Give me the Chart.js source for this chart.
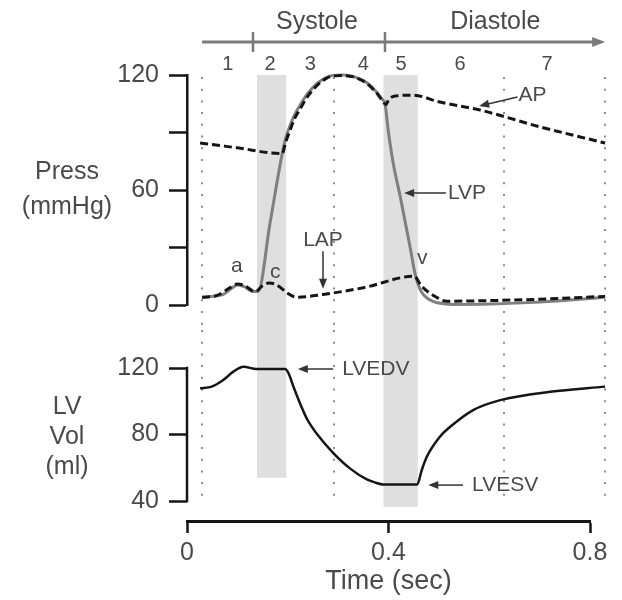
<!DOCTYPE html>
<html>
<head>
<meta charset="utf-8">
<script src="https://cdn.jsdelivr.net/npm/chart.js@4.4.0/dist/chart.umd.min.js"></script>
<style>
  html, body { margin: 0; padding: 0; background: #fff; }
  #wrap { position: relative; width: 622px; height: 600px; }
  canvas { position: absolute; left: 0; }
  #pressChart { top: 0; }
  #volChart { top: 330px; }
</style>
</head>
<body>
<div id="wrap">
  <canvas id="pressChart" width="622" height="330"></canvas>
  <canvas id="volChart" width="622" height="270"></canvas>
</div>
<script>
(() => {
  'use strict';

  const FONT = '"Liberation Sans", Arial, sans-serif';
  const TEXT = '#4a4a4a';
  const INK = '#151515';
  const BAND = '#dfdfdf';

  // curvas (tempo em s)
  const lvpTime = [0.03, 0.05, 0.072, 0.09, 0.1, 0.115, 0.13, 0.141, 0.165, 0.189, 0.196, 0.205, 0.215, 0.224, 0.24, 0.258, 0.275, 0.29, 0.31, 0.33, 0.357, 0.375, 0.387, 0.393, 0.40, 0.41, 0.423, 0.443, 0.453, 0.465, 0.48, 0.50, 0.53, 0.60, 0.70, 0.83];
  const lvpPress = [4, 4.5, 5.5, 9, 10.5, 9.5, 7, 7, 43, 79, 87, 94, 100, 104, 110.5, 115.5, 118.5, 119.8, 120, 119.2, 116, 111.5, 107.5, 105, 90, 73, 57, 30, 16, 7, 3, 1, 0.3, 0.5, 1.5, 4];

  const apTime = [0.026, 0.10, 0.189, 0.196, 0.205, 0.215, 0.224, 0.24, 0.258, 0.275, 0.29, 0.31, 0.33, 0.357, 0.375, 0.387, 0.395, 0.40, 0.413, 0.449, 0.50, 0.582, 0.70, 0.83];
  const apPress = [84.5, 82, 79, 85, 91.5, 98, 102, 109, 114.5, 118, 119.5, 119.7, 119, 115.5, 111, 107, 104.5, 107, 109, 109.5, 106, 101.7, 93, 84.5];

  const lapTime = [0.03, 0.06, 0.085, 0.1, 0.115, 0.135, 0.15, 0.163, 0.178, 0.199, 0.218, 0.27, 0.35, 0.451, 0.465, 0.489, 0.516, 0.6, 0.7, 0.83];
  const lapPress = [4, 5, 9, 11, 10, 7, 10, 11.5, 10.5, 6.3, 4, 5.5, 9, 15, 10, 5, 2, 2.3, 3, 4.5];

  const volTime = [0.026, 0.049, 0.072, 0.092, 0.112, 0.138, 0.195, 0.202, 0.211, 0.224, 0.238, 0.26, 0.29, 0.324, 0.357, 0.375, 0.389, 0.457, 0.466, 0.476, 0.502, 0.522, 0.568, 0.622, 0.721, 0.83];
  const lvVol = [107.8, 108.8, 112.8, 117.8, 120.8, 119.4, 119.4, 116.5, 109, 99, 89.5, 79.5, 69, 59.5, 53, 51, 50, 50, 58.6, 66.6, 78.7, 84.5, 94.7, 100.7, 105.7, 108.8];

  const pressTicks = [0, 30, 60, 90, 120];
  const pressTickLabels = ['0', '', '60', '', '120'];
  const volTicks = [40, 80, 120];
  const timeTicks = [0, 0.4, 0.8];

  // fases do ciclo
  const phaseNames = ['1', '2', '3', '4', '5', '6', '7'];
  const phaseTime = [0.081, 0.165, 0.245, 0.35, 0.425, 0.542, 0.715];
  const periodNames = ['Systole', 'Diastole'];
  const periodTime = [0.258, 0.612];
  const periodMarks = [0.131, 0.393];
  const periodSpan = [0.03, 0.83];

  const dottedTime = [0.03, 0.292, 0.63, 0.83];
  const bandStart = [0.139, 0.39];
  const bandEnd = [0.197, 0.458];
  const bandVolBottom = [54, 36.5];
  const dottedVolBottom = 37.5;

  const pressNotes = [
    { text: 'AP', t: 0.658, v: 109.6, align: 'left', from: [0.656, 108.5], to: [0.58, 103.8] },
    { text: 'LVP', t: 0.518, v: 58.4, align: 'left', from: [0.514, 58.4], to: [0.431, 58.4] },
    { text: 'LAP', t: 0.27, v: 33.9, align: 'center', from: [0.27, 28], to: [0.27, 8.5] },
    { text: 'a', t: 0.099, v: 20 },
    { text: 'c', t: 0.175, v: 17 },
    { text: 'v', t: 0.467, v: 24.5 }
  ];
  const volNotes = [
    { text: 'LVEDV', t: 0.308, v: 119.4, align: 'left', from: [0.29, 119.4], to: [0.22, 119.4] },
    { text: 'LVESV', t: 0.566, v: 49.6, align: 'left', from: [0.548, 49.6], to: [0.479, 49.6] }
  ];

  const pts = (xs, ys) => xs.map((x, i) => ({ x, y: ys[i] }));

  function arrow(ctx, x1, y1, x2, y2) {
    const a = Math.atan2(y2 - y1, x2 - x1);
    const len = 10, half = 4;
    ctx.beginPath();
    ctx.moveTo(x1, y1);
    ctx.lineTo(x2 - Math.cos(a) * len * 0.8, y2 - Math.sin(a) * len * 0.8);
    ctx.stroke();
    ctx.beginPath();
    ctx.moveTo(x2, y2);
    ctx.lineTo(x2 - Math.cos(a) * len + Math.sin(a) * half, y2 - Math.sin(a) * len - Math.cos(a) * half);
    ctx.lineTo(x2 - Math.cos(a) * len - Math.sin(a) * half, y2 - Math.sin(a) * len + Math.cos(a) * half);
    ctx.closePath();
    ctx.fill();
  }

  function notesPlugin(notes) {
    return {
      id: 'notes',
      afterDatasetsDraw(chart) {
        const { ctx, scales: { x, y } } = chart;
        ctx.save();
        ctx.font = '21px ' + FONT;
        ctx.fillStyle = TEXT;
        ctx.strokeStyle = '#333';
        ctx.lineWidth = 1.5;
        ctx.textBaseline = 'middle';
        notes.forEach(n => {
          ctx.textAlign = n.align || 'center';
          ctx.fillText(n.text, x.getPixelForValue(n.t), y.getPixelForValue(n.v));
          if (n.from) {
            ctx.fillStyle = '#333';
            arrow(ctx, x.getPixelForValue(n.from[0]), y.getPixelForValue(n.from[1]),
              x.getPixelForValue(n.to[0]), y.getPixelForValue(n.to[1]));
            ctx.fillStyle = TEXT;
          }
        });
        ctx.restore();
      }
    };
  }

  function guidesPlugin(spanOf, dotSpan) {
    return {
      id: 'guides',
      beforeDatasetsDraw(chart) {
        const { ctx, scales: { x } } = chart;
        ctx.save();
        ctx.fillStyle = BAND;
        bandStart.forEach((t0, i) => {
          const [top, bottom] = spanOf(chart, i);
          const x0 = x.getPixelForValue(t0);
          ctx.fillRect(x0, top, x.getPixelForValue(bandEnd[i]) - x0, bottom - top);
        });
        const [dTop, dBottom] = dotSpan(chart);
        ctx.strokeStyle = '#8c8c8c';
        ctx.lineWidth = 2;
        ctx.setLineDash([2, 9.7]);
        dottedTime.forEach(t => {
          const px = Math.round(x.getPixelForValue(t));
          ctx.beginPath();
          ctx.moveTo(px, dTop);
          ctx.lineTo(px, dBottom);
          ctx.stroke();
        });
        ctx.restore();
      }
    };
  }

  function sideTitle(lines, ys) {
    return {
      id: 'sideTitle',
      afterDraw(chart) {
        const { ctx } = chart;
        ctx.save();
        ctx.font = '25px ' + FONT;
        ctx.fillStyle = TEXT;
        ctx.textAlign = 'center';
        ctx.textBaseline = 'middle';
        lines.forEach((s, i) => ctx.fillText(s, 67, ys[i]));
        ctx.restore();
      }
    };
  }

  const header = {
    id: 'header',
    afterDraw(chart) {
      const { ctx, scales: { x } } = chart;
      const yLine = 42;
      ctx.save();
      ctx.strokeStyle = '#7a7a7a';
      ctx.fillStyle = '#7a7a7a';
      ctx.lineWidth = 3;
      const x0 = x.getPixelForValue(periodSpan[0]);
      const x1 = x.getPixelForValue(periodSpan[1]);
      ctx.beginPath();
      ctx.moveTo(x0, yLine);
      ctx.lineTo(x1 - 8, yLine);
      ctx.stroke();
      ctx.beginPath();
      ctx.moveTo(x1, yLine);
      ctx.lineTo(x1 - 13, yLine - 5);
      ctx.lineTo(x1 - 13, yLine + 5);
      ctx.closePath();
      ctx.fill();
      ctx.lineWidth = 2.5;
      periodMarks.forEach(t => {
        const px = x.getPixelForValue(t);
        ctx.beginPath();
        ctx.moveTo(px, yLine - 10);
        ctx.lineTo(px, yLine + 10);
        ctx.stroke();
      });
      ctx.fillStyle = TEXT;
      ctx.textAlign = 'center';
      ctx.textBaseline = 'middle';
      ctx.font = '25px ' + FONT;
      periodNames.forEach((s, i) => ctx.fillText(s, x.getPixelForValue(periodTime[i]), 22));
      ctx.font = '20px ' + FONT;
      phaseNames.forEach((s, i) => ctx.fillText(s, x.getPixelForValue(phaseTime[i]), 64));
      ctx.restore();
    }
  };

  const volAxisLine = {
    id: 'volAxisLine',
    afterDraw(chart) {
      const { ctx, chartArea, scales: { y } } = chart;
      ctx.save();
      ctx.strokeStyle = INK;
      ctx.lineWidth = 2.5;
      ctx.beginPath();
      ctx.moveTo(chartArea.left, y.getPixelForValue(volTicks[0]) + 1.25);
      ctx.lineTo(chartArea.left, y.getPixelForValue(volTicks[volTicks.length - 1]) - 1.25);
      ctx.stroke();
      ctx.restore();
    }
  };

  const tickFont = { family: FONT, size: 25 };
  const baseOptions = {
    responsive: false,
    devicePixelRatio: 1,
    animation: false,
    events: [],
    elements: {
      point: { radius: 0 },
      line: { cubicInterpolationMode: 'monotone', fill: false, borderCapStyle: 'butt' }
    },
    plugins: { legend: { display: false }, tooltip: { enabled: false } }
  };
  const yCommon = {
    afterFit: s => { s.width = 187; },
    grid: { drawOnChartArea: false, tickLength: 18, tickWidth: 2.5, tickColor: INK },
    ticks: { font: tickFont, color: TEXT, padding: 10 }
  };

  new Chart(document.getElementById('pressChart'), {
    type: 'line',
    data: {
      datasets: [
        { label: 'AP', data: pts(apTime, apPress), borderColor: INK, borderWidth: 3, borderDash: [8, 4], order: 1, clip: false },
        { label: 'LAP', data: pts(lapTime, lapPress), borderColor: INK, borderWidth: 3, borderDash: [8, 4], order: 1, clip: false },
        { label: 'LVP', data: pts(lvpTime, lvpPress), borderColor: '#7f7f7f', borderWidth: 3, order: 2, clip: false }
      ]
    },
    options: {
      ...baseOptions,
      layout: { padding: { top: 75, right: 32, bottom: 25, left: 0 } },
      scales: {
        x: { type: 'linear', min: 0, max: 0.8, display: false },
        y: {
          ...yCommon,
          min: 0, max: 120,
          afterBuildTicks: s => { s.ticks = pressTicks.map(value => ({ value })); },
          ticks: { ...yCommon.ticks, callback: v => pressTickLabels[pressTicks.indexOf(v)] },
          border: { color: INK, width: 2.5 }
        }
      }
    },
    plugins: [
      guidesPlugin(c => [c.chartArea.top, c.height], c => [c.chartArea.top + 2, c.height]),
      header,
      notesPlugin(pressNotes),
      sideTitle(['Press', '(mmHg)'], [172, 207])
    ]
  });

  new Chart(document.getElementById('volChart'), {
    type: 'line',
    data: {
      datasets: [
        { label: 'LV Vol', data: pts(volTime, lvVol), borderColor: INK, borderWidth: 2.5, clip: false }
      ]
    },
    options: {
      ...baseOptions,
      layout: { padding: { top: 38, right: 32, bottom: 0, left: 0 } },
      scales: {
        x: {
          type: 'linear', min: 0, max: 0.8,
          afterBuildTicks: s => { s.ticks = timeTicks.map(value => ({ value })); },
          afterFit: s => { s.height = 79; },
          ticks: { font: tickFont, color: TEXT, padding: 5, maxRotation: 0, callback: v => String(v) },
          grid: { drawOnChartArea: false, tickLength: 12, tickWidth: 2.5, tickColor: INK },
          border: { color: INK, width: 3 },
          title: { display: true, text: 'Time (sec)', font: { family: FONT, size: 27 }, color: TEXT, padding: { top: 0, bottom: 2 } }
        },
        y: {
          ...yCommon,
          min: 28, max: 120,
          afterBuildTicks: s => { s.ticks = volTicks.map(value => ({ value })); },
          border: { display: false }
        }
      }
    },
    plugins: [
      guidesPlugin((c, i) => [0, c.scales.y.getPixelForValue(bandVolBottom[i])],
        c => [0, c.scales.y.getPixelForValue(dottedVolBottom)]),
      volAxisLine,
      notesPlugin(volNotes),
      sideTitle(['LV', 'Vol', '(ml)'], [77, 107, 137])
    ]
  });
})();
</script>
</body>
</html>
